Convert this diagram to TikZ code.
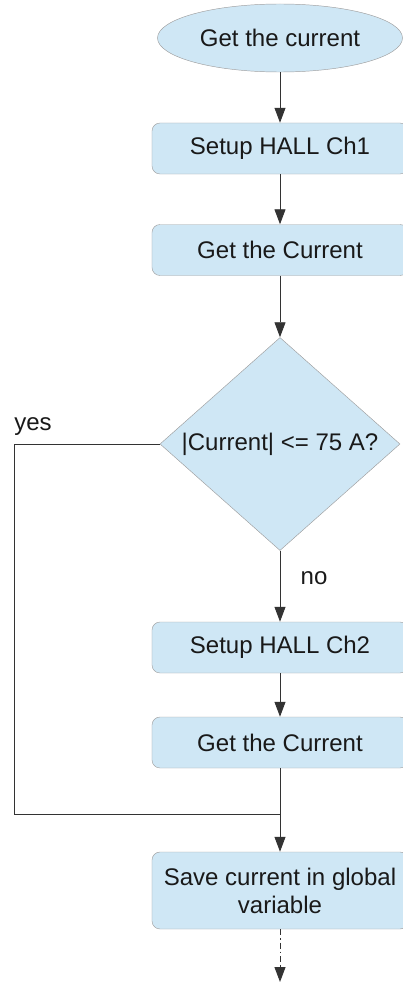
\documentclass[tikz,border=0pt]{standalone}
\usepackage{fontspec}
\setmainfont{Liberation Sans}
\usetikzlibrary{shapes.geometric,arrows.meta}
\definecolor{boxfill}{HTML}{CFE7F5}
\definecolor{boxline}{HTML}{A0A0A0}
\definecolor{wire}{HTML}{333333}
\begin{document}
\begin{tikzpicture}[x=0.03cm, y=-0.03cm,
    every node/.style={font=\fontsize{20.5}{24}\selectfont, text=black!90},
    startbox/.style={ellipse, draw=boxline, fill=boxfill, inner sep=0pt, minimum width=7.35cm, minimum height=2.04cm},
    stepbox/.style={rectangle, rounded corners=0.24cm, draw=boxline, fill=boxfill, inner sep=0pt, minimum width=7.68cm, minimum height=1.53cm, align=center},
    testbox/.style={diamond, draw=boxline, fill=boxfill, inner sep=0pt, aspect=1.127, minimum width=7.2cm, minimum height=6.39cm},
    wire/.style={draw=wire, line width=0.8pt},
    flow/.style={wire, -{Triangle[length=0.45cm, width=0.33cm]}}]
    \useasboundingbox (0,0) rectangle (403,983);
    \node[startbox] (start) at (280,38) {Get the current};
    \node[stepbox] (ch1) at (280,148.5) {Setup HALL Ch1};
    \node[stepbox] (get1) at (280,250) {Get the Current};
    \node[testbox] (test) at (280,444) {|Current| <= 75 A?};
    \node[stepbox] (ch2) at (280,647.5) {Setup HALL Ch2};
    \node[stepbox] (get2) at (280,742.5) {Get the Current};
    \node[stepbox, minimum height=2.31cm] (save) at (280,890.5) {Save current in global\\variable};
    \coordinate (lft) at (14,814);
    \coordinate (jn) at (280,814);
    \coordinate (out) at (280,982);
    \node (yes) at (33,427) {yes};
    \node (no) at (314,578) {no};
    \draw[flow] (start) -- (ch1);
    \draw[flow] (ch1) -- (get1);
    \draw[flow] (get1) -- (test);
    \draw[flow] (test) -- (ch2);
    \draw[flow] (ch2) -- (get2);
    \draw[wire] (test.west) -| (lft) -- (jn); %YES
    \draw[wire] (get2) -- (jn);
    \draw[flow] (jn) -- (save);
    \draw[flow, dash pattern=on 5pt off 2.5pt on 1.5pt off 2.5pt] (save) -- (out);
\end{tikzpicture}
\end{document}
